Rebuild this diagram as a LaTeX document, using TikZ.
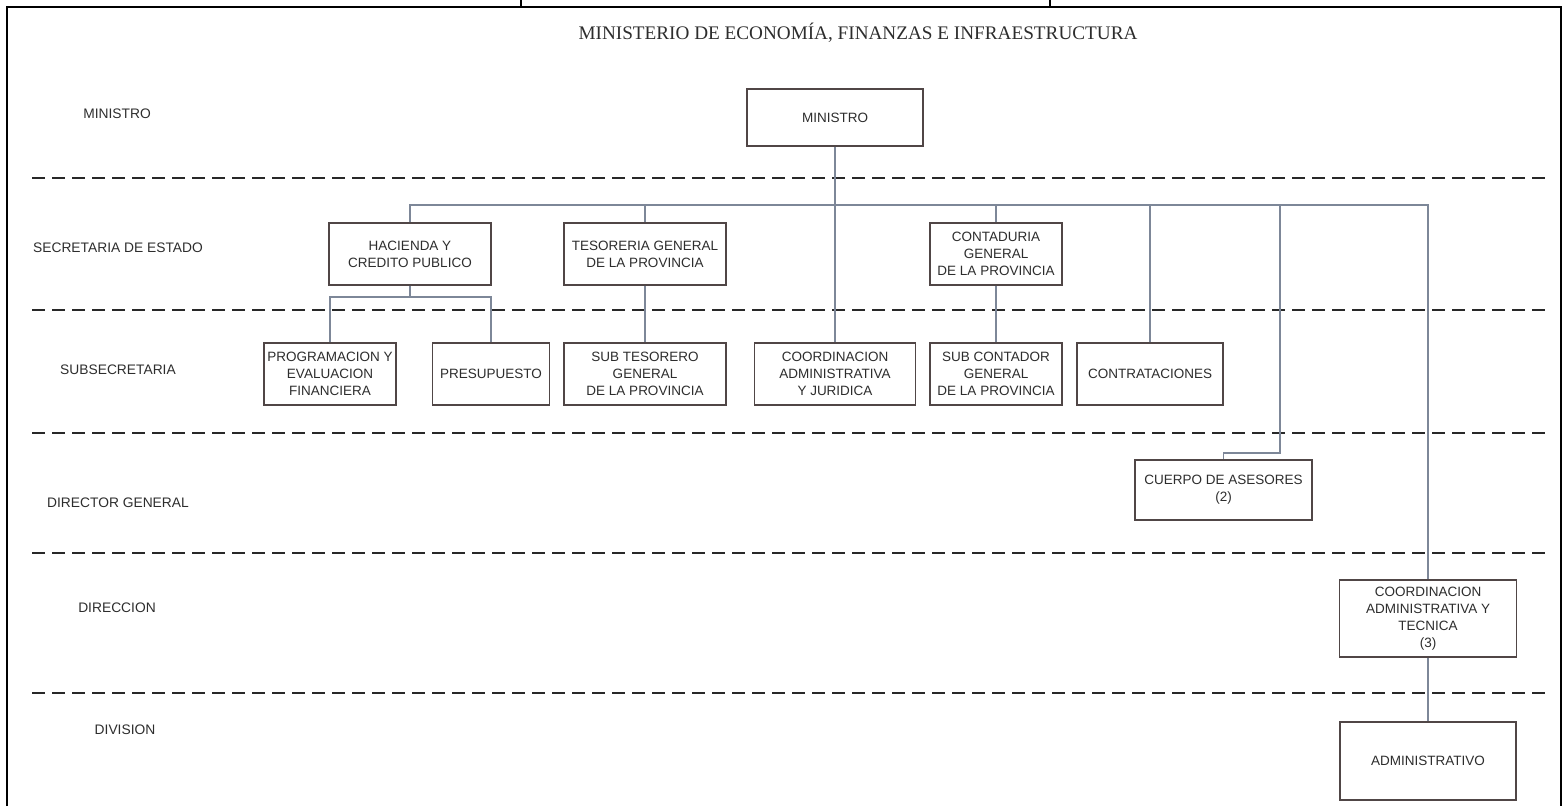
\documentclass[tikz,border=0pt]{standalone}
\usepackage{fontspec}
\newfontfamily\lsans{Liberation Sans}
\newfontfamily\lserif{Liberation Serif}
\definecolor{boxcol}{RGB}{80,70,70}
\definecolor{linecol}{RGB}{125,135,152}
\definecolor{txtcol}{RGB}{45,45,45}
\definecolor{dashcol}{RGB}{40,40,40}
\tikzset{
  bx/.style={draw=boxcol, line width=1.6pt, fill=white, align=center, inner sep=1pt,
    text=txtcol, font=\lsans\fontsize{13.5}{17}\selectfont},
  lvl/.style={text=txtcol, font=\lsans\fontsize{13.8}{17}\selectfont, inner sep=0pt},
  conn/.style={draw=linecol, line width=1.3pt},
  sep/.style={draw=dashcol, line width=1.4pt, dash pattern=on 13pt off 7pt},
  frame/.style={draw=black, line width=2pt}
}
\begin{document}
\begin{tikzpicture}[x=1pt,y=-1pt]
\useasboundingbox (0,0) rectangle (1565,806);
% outer frame and top box edges
\coordinate (fa) at (7,806);
\coordinate (fb) at (7,7);
\coordinate (fc) at (1561,7);
\coordinate (fd) at (1561,806);
\draw[frame] (fa) -- (fb) -- (fc) -- (fd);
\coordinate (ta) at (521,0);
\coordinate (tb) at (1050,0);
\draw[frame, line width=1.6pt] (ta) -- (ta |- fb);
\draw[frame, line width=1.6pt] (tb) -- (tb |- fb);
% title
\node[text=txtcol, font=\lserif\fontsize{19.2}{22}\selectfont, inner sep=0pt] (title) at (858,33) {MINISTERIO DE ECONOMÍA, FINANZAS E INFRAESTRUCTURA};
% dashed separators
\foreach \yy/\nm in {178/s1,310/s2,433/s3,553/s4,693/s5}{
  \coordinate (\nm a) at (32,\yy);
  \coordinate (\nm b) at (1547,\yy);
  \draw[sep] (\nm a) -- (\nm b);
}
% level labels
\node[lvl] (l1) at (117,114) {MINISTRO};
\node[lvl] (l2) at (118,248) {SECRETARIA DE ESTADO};
\node[lvl] (l3) at (118,370) {SUBSECRETARIA};
\node[lvl] (l4) at (118,503) {DIRECTOR GENERAL};
\node[lvl] (l5) at (117,608) {DIRECCION};
\node[lvl] (l6) at (125,730) {DIVISION};
% helper coordinates for connectors
\coordinate (bus) at (0,205);
\coordinate (hs) at (0,297);
\coordinate (cj) at (1280,453);
% boxes
\node[bx, minimum width=176pt, minimum height=57pt] (min) at (835,117.5) {MINISTRO};
\node[bx, minimum width=162pt, minimum height=62pt] (hac) at (410,254) {HACIENDA Y\\CREDITO PUBLICO};
\node[bx, minimum width=162pt, minimum height=62pt] (tes) at (645,254) {TESORERIA GENERAL\\DE LA PROVINCIA};
\node[bx, minimum width=132pt, minimum height=62pt] (cont) at (996,254) {CONTADURIA\\GENERAL\\DE LA PROVINCIA};
\node[bx, minimum width=132pt, minimum height=62pt] (prog) at (330,374) {PROGRAMACION Y\\EVALUACION\\FINANCIERA};
\node[bx, minimum width=117pt, minimum height=62pt] (pres) at (491,374) {PRESUPUESTO};
\node[bx, minimum width=162pt, minimum height=62pt] (subt) at (645,374) {SUB TESORERO\\GENERAL\\DE LA PROVINCIA};
\node[bx, minimum width=161pt, minimum height=62pt] (cadm) at (835,374) {COORDINACION\\ADMINISTRATIVA\\Y JURIDICA};
\node[bx, minimum width=132pt, minimum height=62pt] (subc) at (996,374) {SUB CONTADOR\\GENERAL\\DE LA PROVINCIA};
\node[bx, minimum width=146pt, minimum height=62pt] (contr) at (1150,374) {CONTRATACIONES};
\node[bx, minimum width=177pt, minimum height=60pt] (cuer) at (1223.5,490) {CUERPO DE ASESORES\\(2)};
\node[bx, minimum width=177pt, minimum height=77pt] (ctec) at (1428,618.5) {COORDINACION\\ADMINISTRATIVA Y\\TECNICA\\(3)};
\node[bx, minimum width=176pt, minimum height=78pt] (adm) at (1428,761) {ADMINISTRATIVO};
% connectors
\draw[conn] (min.south) -- (cadm.north);
\draw[conn] (hac.north) -- (hac.north |- bus) -- (ctec.north |- bus) -- (ctec.north);
\draw[conn] (tes.north) -- (tes.north |- bus);
\draw[conn] (cont.north) -- (cont.north |- bus);
\draw[conn] (contr.north) -- (contr.north |- bus);
\draw[conn] (cuer.north) -- (cuer.north |- cj) -- (cj) -- (cj |- bus);
\draw[conn] (tes.south) -- (subt.north);
\draw[conn] (cont.south) -- (subc.north);
\draw[conn] (ctec.south) -- (adm.north);
\draw[conn] (hac.south) -- (hac.south |- hs);
\draw[conn] (prog.north) -- (prog.north |- hs) -- (pres.north |- hs) -- (pres.north);
\end{tikzpicture}
\end{document}
